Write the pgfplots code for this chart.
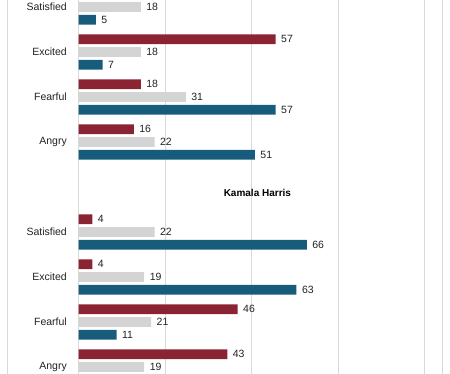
\documentclass[border=0pt]{standalone}
\usepackage{pgfplots}
\pgfplotsset{compat=1.18}
\usepackage{fontspec}
\setmainfont{Liberation Sans}
\definecolor{cred}{HTML}{8A2432}
\definecolor{cgray}{HTML}{D4D4D4}
\definecolor{cblue}{HTML}{185C7C}
\definecolor{cgrid}{HTML}{D9D9D9}
\definecolor{ctext}{HTML}{222222}
\begin{document}
\begin{tikzpicture}[font=\fontsize{10.5bp}{12bp}\selectfont]
\begin{axis}[
 scale only axis, width=450bp, height=374bp,
 xmin=-22.69, xmax=107.37, ymin=-0.1556, ymax=8.156, y dir=reverse,
 xtick={0,25,50,75,100}, extra x ticks={-20.6,105.1},
 extra x tick style={grid=major}, extra x tick labels={},
 xticklabels={}, ytick=\empty,
 xmajorgrids, grid style={draw=cgrid, line width=0.9bp},
 major tick length=0pt, axis line style={draw=none},
 xbar, bar width=9.7bp, bar shift=0pt,
 /pgf/number format/assume math mode=true,
 nodes near coords, point meta=x,
 every node near coord/.append style={anchor=west, xshift=2bp, text=ctext, font=\fontsize{10.5bp}{12bp}\selectfont},
]
\addplot[fill=cred, draw=none] coordinates {(57,0.718) (18,1.718) (16,2.718) (4,4.718) (4,5.718) (46,6.718) (43,7.718)};
\addplot[fill=cgray, draw=none] coordinates {(18,0) (18,1) (31,2) (22,3) (22,5) (19,6) (21,7) (19,8)};
\addplot[fill=cblue, draw=none] coordinates {(5,0.282) (7,1.282) (57,2.282) (51,3.282) (66,5.282) (63,6.282) (11,7.282)};
\node[anchor=east, inner sep=0pt, text=ctext] at (axis cs:-3.32,0) {Satisfied};
\node[anchor=east, inner sep=0pt, text=ctext] at (axis cs:-3.32,1) {Excited};
\node[anchor=east, inner sep=0pt, text=ctext] at (axis cs:-3.32,2) {Fearful};
\node[anchor=east, inner sep=0pt, text=ctext] at (axis cs:-3.32,3) {Angry};
\node[anchor=east, inner sep=0pt, text=ctext] at (axis cs:-3.32,5) {Satisfied};
\node[anchor=east, inner sep=0pt, text=ctext] at (axis cs:-3.32,6) {Excited};
\node[anchor=east, inner sep=0pt, text=ctext] at (axis cs:-3.32,7) {Fearful};
\node[anchor=east, inner sep=0pt, text=ctext] at (axis cs:-3.32,8) {Angry};
\node[font=\bfseries\fontsize{10bp}{12bp}\selectfont, text=black] at (axis cs:51.7,4.133) {Kamala Harris};
\end{axis}
\pgfresetboundingbox
\path[use as bounding box] (current axis.south west) rectangle (current axis.north east);
\end{tikzpicture}
\end{document}
